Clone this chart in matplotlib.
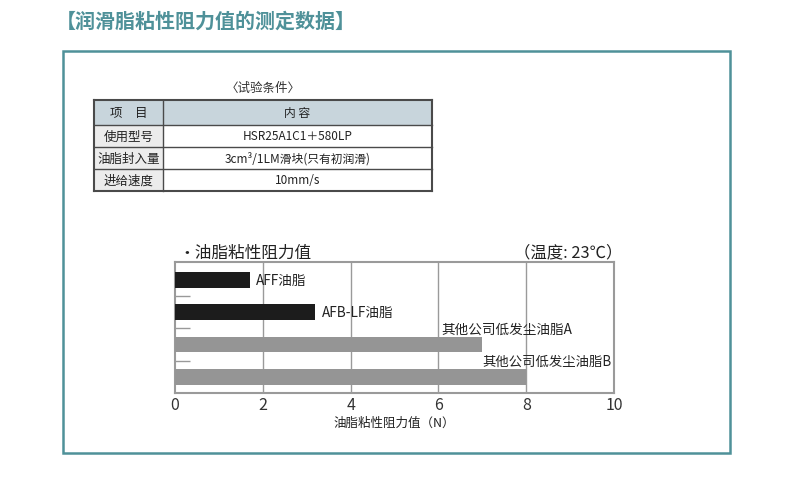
import matplotlib.pyplot as plt
from matplotlib.patches import Rectangle

plt.rcParams['font.family'] = ['Noto Sans CJK SC', 'DejaVu Sans']

# data
title = "【润滑脂粘性阻力值的测定数据】"
table_caption = "〈试验条件〉"
table_header = ["项　目", "内 容"]
table_items = ["使用型号", "油脂封入量", "进给速度"]
table_values = ["HSR25A1C1＋580LP", "3cm³/1LM滑块(只有初润滑)", "10mm/s"]

grease_names = ["AFF油脂", "AFB-LF油脂", "其他公司低发尘油脂A", "其他公司低发尘油脂B"]
resistance = [1.7, 3.2, 7.0, 8.0]
bar_colors = ["#1c1c1c", "#1c1c1c", "#959595", "#959595"]
x_ticks = [0, 2, 4, 6, 8, 10]

W, H = 790, 481
TEAL = "#4f9199"


def fx(px):
    return px / W


def fy(py):
    return 1 - py / H


fig = plt.figure(figsize=(W / 100, H / 100), dpi=100)

# page title
fig.text(fx(56), fy(21), title, fontsize=14.4, fontweight='bold', color=TEAL,
         ha='left', va='center')

# outer frame
fig.patches.append(Rectangle((fx(63), fy(454)), fx(730) - fx(63), fy(52) - fy(454),
                             transform=fig.transFigure, fill=False,
                             edgecolor=TEAL, linewidth=1.8))

# conditions table
tl, tm, tr = 94, 163, 432
row_lines = [101, 126, 148, 170, 192]
fig.text(fx((tl + tr) / 2), fy(88), table_caption, fontsize=9, color="#333333",
         ha='center', va='center')
# header background
fig.patches.append(Rectangle((fx(tl), fy(row_lines[1])), fx(tr) - fx(tl),
                             fy(row_lines[0]) - fy(row_lines[1]),
                             transform=fig.transFigure, facecolor="#c8d5dc",
                             edgecolor='none'))
# first column background
fig.patches.append(Rectangle((fx(tl), fy(row_lines[-1])), fx(tm) - fx(tl),
                             fy(row_lines[1]) - fy(row_lines[-1]),
                             transform=fig.transFigure, facecolor="#ececec",
                             edgecolor='none'))
for i, yl in enumerate(row_lines):
    lw = 1.5 if i in (0, len(row_lines) - 1) else 1.0
    fig.add_artist(plt.Line2D([fx(tl), fx(tr)], [fy(yl), fy(yl)],
                              transform=fig.transFigure, color="#4a4a4a", lw=lw))
for xl, lw in ((tl, 1.5), (tm, 1.0), (tr, 1.5)):
    fig.add_artist(plt.Line2D([fx(xl), fx(xl)], [fy(row_lines[0]), fy(row_lines[-1])],
                              transform=fig.transFigure, color="#4a4a4a", lw=lw))

cells = [table_header] + [[a, b] for a, b in zip(table_items, table_values)]
for r, (c1, c2) in enumerate(cells):
    yc = (row_lines[r] + row_lines[r + 1]) / 2
    fig.text(fx((tl + tm) / 2), fy(yc), c1, fontsize=9, color="#222222",
             ha='center', va='center')
    fig.text(fx((tm + tr) / 2), fy(yc), c2, fontsize=8.5, color="#222222",
             ha='center', va='center')

# bar chart
ax = fig.add_axes([fx(175), fy(394), fx(614) - fx(175), fy(263) - fy(394)])
ypos = list(range(len(resistance)))
ax.barh(ypos, resistance, height=0.48, color=bar_colors, zorder=3)
ax.set_xlim(0, 10)
ax.set_ylim(3.5, -0.55)
ax.set_xticks(x_ticks)
ax.set_xticklabels([str(t) for t in x_ticks], fontsize=11.5, color="#333333")
ax.tick_params(axis='x', length=0, pad=2)
ax.set_yticks([0.5, 1.5, 2.5])
ax.set_yticklabels([])
ax.tick_params(axis='y', direction='in', length=11, width=1, color="#999999")
for g in x_ticks[1:-1]:
    ax.axvline(g, color="#9a9a9a", lw=1, zorder=1)
for s in ax.spines.values():
    s.set_color("#9a9a9a")
    s.set_linewidth(1.5)

ax.text(resistance[0] + 0.15, 0, grease_names[0], fontsize=9.8, va='center', ha='left', color="#222222")
ax.text(resistance[1] + 0.15, 1, grease_names[1], fontsize=9.8, va='center', ha='left', color="#222222")
ax.text(resistance[2] + 2.05, 1.52, grease_names[2], fontsize=9.8, va='center', ha='right', color="#222222")
ax.text(resistance[3] + 1.95, 2.5, grease_names[3], fontsize=9.6, va='center', ha='right', color="#222222")

ax.set_xlabel("油脂粘性阻力值（N）", fontsize=9, color="#222222", labelpad=2)

fig.text(fx(178), fy(253), "・油脂粘性阻力值", fontsize=12, color="#222222",
         ha='left', va='center')
fig.text(fx(622), fy(253), "（温度: 23℃）", fontsize=11.8, color="#222222",
         ha='right', va='center')

fig.savefig("out.png", dpi=100)
